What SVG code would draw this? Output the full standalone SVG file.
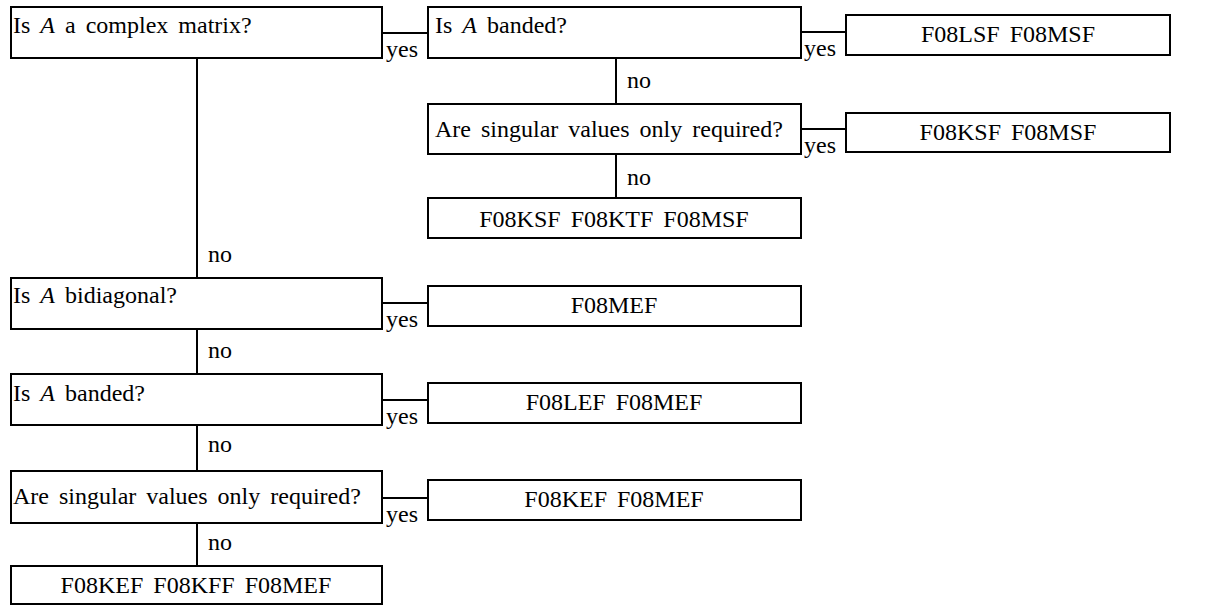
<svg xmlns="http://www.w3.org/2000/svg" width="1216" height="605" viewBox="0 0 1216 605" font-family="'Liberation Serif', 'Times New Roman', Times, 'DejaVu Serif', serif">
<style>
rect{fill:#fff;stroke:#000;stroke-width:2}
line{stroke:#000;stroke-width:2}
text{font-family:'Liberation Serif','Times New Roman',Times,'DejaVu Serif',serif;font-size:24px;fill:#000;word-spacing:4px}
.c{text-anchor:middle}
.it{font-style:italic}
</style>
<rect x="0" y="0" width="1216" height="605" style="stroke:none"/>
<g id="connectors">
<line x1="382" y1="33" x2="428" y2="33"/><text x="386" y="57">yes</text>
<line x1="801" y1="32" x2="846" y2="32"/><text x="804" y="56">yes</text>
<line x1="616" y1="58" x2="616" y2="104"/><text x="627" y="88">no</text>
<line x1="801" y1="129" x2="846" y2="129"/><text x="804" y="153">yes</text>
<line x1="616" y1="154" x2="616" y2="198"/><text x="627" y="185">no</text>
<line x1="197" y1="58" x2="197" y2="278"/><text x="208" y="262">no</text>
<line x1="382" y1="303" x2="428" y2="303"/><text x="386" y="327">yes</text>
<line x1="197" y1="329" x2="197" y2="374"/><text x="208" y="358">no</text>
<line x1="382" y1="400" x2="428" y2="400"/><text x="386" y="424">yes</text>
<line x1="197" y1="425" x2="197" y2="471"/><text x="208" y="452">no</text>
<line x1="382" y1="498" x2="428" y2="498"/><text x="386" y="522">yes</text>
<line x1="197" y1="523" x2="197" y2="566"/><text x="208" y="550">no</text>
</g>
<g id="q1"><rect x="11" y="7" width="371" height="51"/><text x="13" y="33">Is <tspan class="it">A</tspan> a complex matrix?</text></g>
<g id="q2"><rect x="428" y="7" width="373" height="51"/><text x="435" y="33">Is <tspan class="it">A</tspan> banded?</text></g>
<g id="r1"><rect x="846" y="15" width="324" height="40"/><text class="c" x="1008" y="42">F08LSF F08MSF</text></g>
<g id="q3"><rect x="428" y="104" width="373" height="50"/><text x="435" y="137">Are singular values only required?</text></g>
<g id="r2"><rect x="846" y="113" width="324" height="39"/><text class="c" x="1008" y="140">F08KSF F08MSF</text></g>
<g id="r3"><rect x="428" y="198" width="373" height="40"/><text class="c" x="614" y="227">F08KSF F08KTF F08MSF</text></g>
<g id="q4"><rect x="11" y="278" width="371" height="51"/><text x="13" y="303">Is <tspan class="it">A</tspan> bidiagonal?</text></g>
<g id="r4"><rect x="428" y="286" width="373" height="40"/><text class="c" x="614" y="313">F08MEF</text></g>
<g id="q5"><rect x="11" y="374" width="371" height="51"/><text x="13" y="401">Is <tspan class="it">A</tspan> banded?</text></g>
<g id="r5"><rect x="428" y="383" width="373" height="40"/><text class="c" x="614" y="410">F08LEF F08MEF</text></g>
<g id="q6"><rect x="11" y="471" width="371" height="52"/><text x="13" y="504">Are singular values only required?</text></g>
<g id="r6"><rect x="428" y="480" width="373" height="40"/><text class="c" x="614" y="507">F08KEF F08MEF</text></g>
<g id="r7"><rect x="11" y="566" width="371" height="38"/><text class="c" x="196" y="593">F08KEF F08KFF F08MEF</text></g>
</svg>
